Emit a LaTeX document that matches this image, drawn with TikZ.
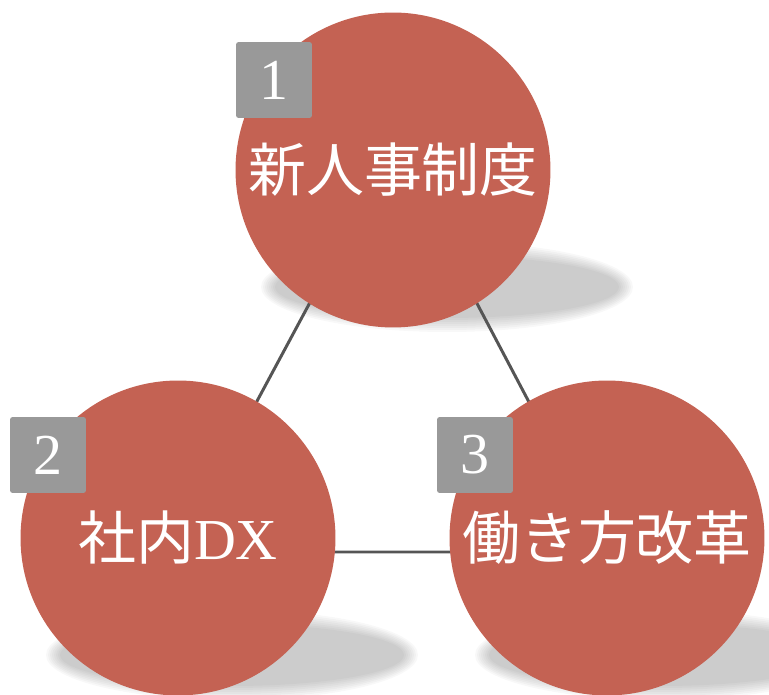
\documentclass[tikz,border=0pt]{standalone}
\usepackage{fontspec}
\setmainfont{Liberation Serif}
\newfontfamily\jpfont{Noto Sans CJK JP}
\definecolor{topicred}{HTML}{C46253}
\definecolor{taggray}{HTML}{999999}
\definecolor{linkgray}{HTML}{555555}

\begin{document}
\begin{tikzpicture}[x=0.02cm,y=-0.02cm,
  topic/.style={shape=circle,fill=topicred,minimum size=6.3cm,inner sep=0pt,text=white,font=\fontsize{33}{33}\selectfont},
  tag/.style={fill=taggray,rounded corners=1.5pt,minimum size=1.52cm,inner sep=0pt,text=white,font=\fontsize{33}{33}\selectfont},
  link/.style={draw=linkgray,line width=1.7pt}]
\useasboundingbox (0,0) rectangle (769,695);

% soft shadows
\foreach \x/\y in {447/287,232/655,661/655}
  \foreach \i in {0,...,7}
    \fill[black,opacity=0.028] (\x,\y) ellipse ({186-2*\i} and {45-2*\i});

\coordinate (t1) at (394,146);
\coordinate (t2) at (176,552);
\coordinate (t3) at (608,552);
\draw[link] (t1) -- (t2) -- (t3) -- cycle;

\draw (393,170) node (c1) [topic] {\jpfont 新人事制度};
\draw (178,538) node (c2) [topic] {{\jpfont 社内}DX};
\draw (607,538) node (c3) [topic] {\jpfont 働き方改革};

\node (n1) [tag] at (274,80)  {1};
\node (n2) [tag] at (48,455)  {2};
\node (n3) [tag] at (475,455) {3};

\end{tikzpicture}
\end{document}
